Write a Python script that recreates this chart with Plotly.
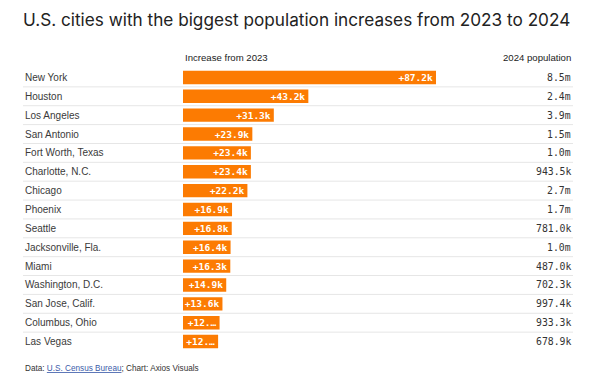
import plotly.graph_objects as go

cities = ["New York", "Houston", "Los Angeles", "San Antonio", "Fort Worth, Texas",
          "Charlotte, N.C.", "Chicago", "Phoenix", "Seattle", "Jacksonville, Fla.",
          "Miami", "Washington, D.C.", "San Jose, Calif.", "Columbus, Ohio", "Las Vegas"]
increase_k = [87.2, 43.2, 31.3, 23.9, 23.4, 23.4, 22.2, 16.9, 16.8, 16.4, 16.3, 14.9, 13.6, 12.6, 12.1]
population_2024 = ["8.5m", "2.4m", "3.9m", "1.5m", "1.0m", "943.5k", "2.7m", "1.7m", "781.0k",
                   "1.0m", "487.0k", "702.3k", "997.4k", "933.3k", "678.9k"]

ORANGE = "#fc7b02"
W, H = 600, 384
L, R = 183, 573
T, B = 68, 351
plot_w = R - L
px_per_k = 253 / 87.2
x_max = plot_w / px_per_k


def bar_label(v):
    s = f"+{v:.1f}k"
    # labels that do not fit inside the short bars are shortened
    if v * px_per_k < 38:
        s = s[:4] + "…"
    return s


labels = [bar_label(v) for v in increase_k]

fig = go.Figure()
fig.add_trace(go.Bar(
    x=increase_k, y=cities, orientation="h",
    marker=dict(color=ORANGE, line=dict(width=0)),
    width=0.71,
    text=labels, textposition="inside", insidetextanchor="end",
    textangle=0, constraintext="none",
    textfont=dict(family="DejaVu Sans Mono", size=9.5, color="white", weight="bold"),
    hoverinfo="skip",
))

x_left_paper = (23 - L) / plot_w
shapes = []
for i in range(len(cities) - 1):
    shapes.append(dict(type="line", xref="paper", yref="y", x0=x_left_paper, x1=1,
                       y0=i + 0.5, y1=i + 0.5, line=dict(color="#e6e6e6", width=1), layer="below"))

annotations = []
for i, (c, p) in enumerate(zip(cities, population_2024)):
    annotations.append(dict(xref="paper", yref="y", x=x_left_paper, y=c, text=c, showarrow=False,
                            xanchor="left", yanchor="middle",
                            font=dict(family="Liberation Sans", size=10, color="#3a3a3a")))
    annotations.append(dict(xref="paper", yref="y", x=1, y=c, text=p, showarrow=False,
                            xanchor="right", yanchor="middle",
                            font=dict(family="DejaVu Sans Mono", size=9.8, color="#333333")))

annotations += [
    dict(xref="paper", yref="paper", x=0, y=1, yshift=11, text="Increase from 2023", showarrow=False,
         xanchor="left", yanchor="middle", font=dict(family="Liberation Sans", size=9.6, color="#222222")),
    dict(xref="paper", yref="paper", x=1, y=1, yshift=11, text="2024 population", showarrow=False,
         xanchor="right", yanchor="middle", font=dict(family="Liberation Sans", size=9.6, color="#222222")),
    dict(xref="paper", yref="paper", x=x_left_paper, y=0, yshift=-17,
         text="Data: <a href='https://www.census.gov' style='color:#3b5ba9'><u>U.S. Census Bureau</u></a>; Chart: Axios Visuals",
         showarrow=False, xanchor="left", yanchor="middle",
         font=dict(family="Liberation Sans", size=8.2, color="#333333")),
]

fig.update_layout(
    width=W, height=H,
    margin=dict(l=L, r=W - R, t=T, b=H - B),
    paper_bgcolor="white", plot_bgcolor="white",
    title=dict(text="U.S. cities with the biggest population increases from 2023 to 2024",
               x=23 / W, xanchor="left", y=1 - 20 / H, yanchor="middle",
               font=dict(family="Inter", size=17.2, color="#222222")),
    xaxis=dict(range=[0, x_max], visible=False, fixedrange=True),
    yaxis=dict(autorange="reversed", visible=False, fixedrange=True),
    showlegend=False,
    shapes=shapes, annotations=annotations,
)

fig.write_html("out.html", config={"displayModeBar": False},
               post_script="document.body.style.margin='0';")
